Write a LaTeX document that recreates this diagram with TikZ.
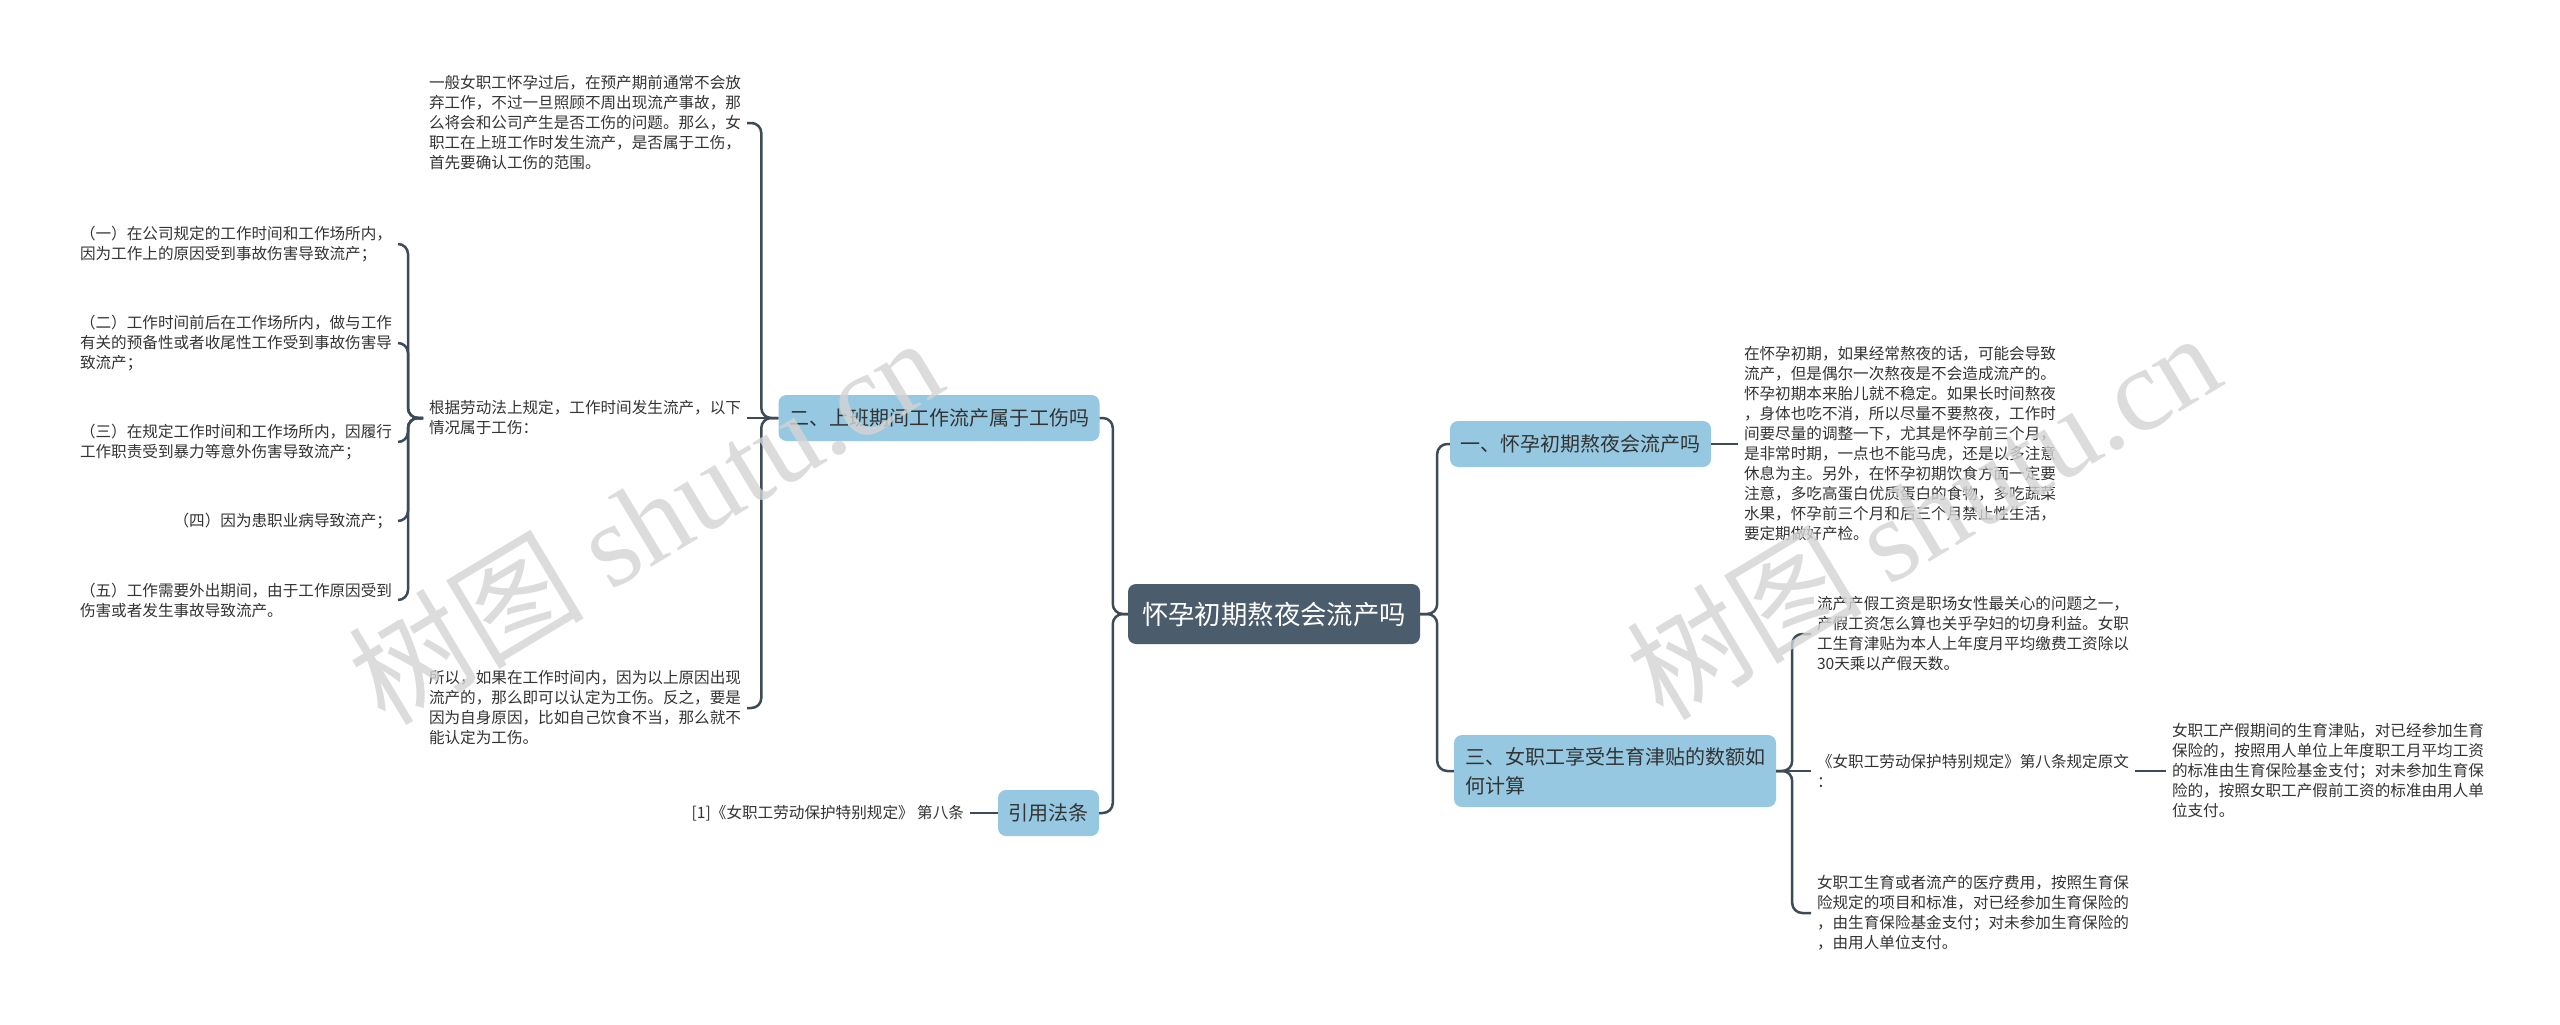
\documentclass[tikz,border=0pt]{standalone}
\usepackage{fontspec}
\setmainfont{Noto Sans CJK SC}
\newfontfamily\wmlatin{Liberation Serif}
\definecolor{rootc}{HTML}{4B5C6D}
\definecolor{branchc}{HTML}{96C9E1}
\definecolor{linec}{HTML}{3D4A58}
\definecolor{textc}{HTML}{333333}
\tikzset{
  txt/.style={font=\fontsize{15.6}{20}\selectfont, align=left, inner sep=0pt, outer xsep=6pt, text=textc},
  rootbox/.style={fill=rootc, rounded corners=8pt, text=white, font=\fontsize{26.4}{32}\selectfont, inner xsep=14pt, inner ysep=0pt, minimum height=60pt},
  branchbox/.style={fill=branchc, rounded corners=8pt, text=textc, font=\fontsize{20}{29}\selectfont, align=left, inner xsep=10.5pt, inner ysep=0pt, minimum height=46pt},
  conn/.style={draw=linec, line width=2.5pt, rounded corners=10pt},
  wm/.style={text=black!17, text opacity=0.8, font=\fontsize{118}{124}\selectfont, inner sep=0pt}
}
\begin{document}
\begin{tikzpicture}[x=1pt,y=-1pt]
\fill[white] (0,0) rectangle (2560,1025);
\useasboundingbox (0,0) rectangle (2560,1025);

% root
\node[rootbox] (root) at (1274,614) {怀孕初期熬夜会流产吗};

% left branches
\node[branchbox] (n2) at (939,418) {二、上班期间工作流产属于工伤吗};
\node[branchbox] (cite) at (1048.5,813) {引用法条};

% left texts
\node[txt, anchor=west] (t1) at (423,123) {一般女职工怀孕过后，在预产期前通常不会放\\弃工作，不过一旦照顾不周出现流产事故，那\\么将会和公司产生是否工伤的问题。那么，女\\职工在上班工作时发生流产，是否属于工伤，\\首先要确认工伤的范围。};
\node[txt, anchor=west] (g) at (423,418) {根据劳动法上规定，工作时间发生流产，以下\\情况属于工伤：};
\node[txt, anchor=west] (t3) at (423,708) {所以，如果在工作时间内，因为以上原因出现\\流产的，那么即可以认定为工伤。反之，要是\\因为自身原因，比如自己饮食不当，那么就不\\能认定为工伤。};

\node[txt, anchor=east] (i1) at (398,244) {（一）在公司规定的工作时间和工作场所内，\\因为工作上的原因受到事故伤害导致流产；};
\node[txt, anchor=east] (i2) at (398,343) {（二）工作时间前后在工作场所内，做与工作\\有关的预备性或者收尾性工作受到事故伤害导\\致流产；};
\node[txt, anchor=east] (i3) at (398,442) {（三）在规定工作时间和工作场所内，因履行\\工作职责受到暴力等意外伤害导致流产；};
\node[txt, anchor=east] (i4) at (398,521) {（四）因为患职业病导致流产；};
\node[txt, anchor=east] (i5) at (398,600) {（五）工作需要外出期间，由于工作原因受到\\伤害或者发生事故导致流产。};

\node[txt, anchor=east] (cref) at (970,813) {[1]《女职工劳动保护特别规定》 第八条};

% right branches
\node[branchbox] (n1) at (1580.5,444) {一、怀孕初期熬夜会流产吗};
\node[branchbox, minimum height=72pt, inner xsep=11pt] (n3) at (1615,771) {三、女职工享受生育津贴的数额如\\何计算};

\node[txt, anchor=west] (r1) at (1738,444) {在怀孕初期，如果经常熬夜的话，可能会导致\\流产，但是偶尔一次熬夜是不会造成流产的。\\怀孕初期本来胎儿就不稳定。如果长时间熬夜\\，身体也吃不消，所以尽量不要熬夜，工作时\\间要尽量的调整一下，尤其是怀孕前三个月，\\是非常时期，一点也不能马虎，还是以多注意\\休息为主。另外，在怀孕初期饮食方面一定要\\注意，多吃高蛋白优质蛋白的食物，多吃蔬菜\\水果，怀孕前三个月和后三个月禁止性生活，\\要定期做好产检。};

\node[txt, anchor=west] (r3a) at (1811,634) {流产产假工资是职场女性最关心的问题之一，\\产假工资怎么算也关乎孕妇的切身利益。女职\\工生育津贴为本人上年度月平均缴费工资除以\\30天乘以产假天数。};
\node[txt, anchor=west] (r3b) at (1811,771) {《女职工劳动保护特别规定》第八条规定原文\\：};
\node[txt, anchor=west] (r3c) at (1811,913) {女职工生育或者流产的医疗费用，按照生育保\\险规定的项目和标准，对已经参加生育保险的\\，由生育保险基金支付；对未参加生育保险的\\，由用人单位支付。};
\node[txt, anchor=west] (r4) at (2166,771) {女职工产假期间的生育津贴，对已经参加生育\\保险的，按照用人单位上年度职工月平均工资\\的标准由生育保险基金支付；对未参加生育保\\险的，按照女职工产假前工资的标准由用人单\\位支付。};

% connectors: root
\draw[conn] (root.west) -- ++(-15,0) |- (n2.east);
\draw[conn] (root.west) -- ++(-15,0) |- (cite.east);
\draw[conn] (root.east) -- ++(17,0) |- (n1.west);
\draw[conn] (root.east) -- ++(17,0) |- (n3.west);

% n2 subtree
\draw[conn] (n2.west) -- ++(-17,0) |- (t1.east);
\draw[conn] (n2.west) -- (g.east);
\draw[conn] (n2.west) -- ++(-17,0) |- (t3.east);

% g subtree
\draw[conn] (g.west) -- ++(-15,0) |- (i1.east);
\draw[conn] (g.west) -- ++(-15,0) |- (i2.east);
\draw[conn] (g.west) -- ++(-15,0) |- (i3.east);
\draw[conn] (g.west) -- ++(-15,0) |- (i4.east);
\draw[conn] (g.west) -- ++(-15,0) |- (i5.east);

% cite
\draw[conn] (cite.west) -- (cref.east);

% right subtrees
\draw[conn] (n1.east) -- (r1.west);
\draw[conn] (n3.east) -- ++(16,0) |- (r3a.west);
\draw[conn] (n3.east) -- (r3b.west);
\draw[conn] (n3.east) -- ++(16,0) |- (r3c.west);
\draw[conn] (r3b.east) -- (r4.west);

% watermarks
\node[wm, rotate=31] (wm1) at (645,519) {树图 {\wmlatin shutu.cn}};
\node[wm, rotate=31] (wm2) at (1923,514) {树图 {\wmlatin shutu.cn}};
\end{tikzpicture}
\end{document}
